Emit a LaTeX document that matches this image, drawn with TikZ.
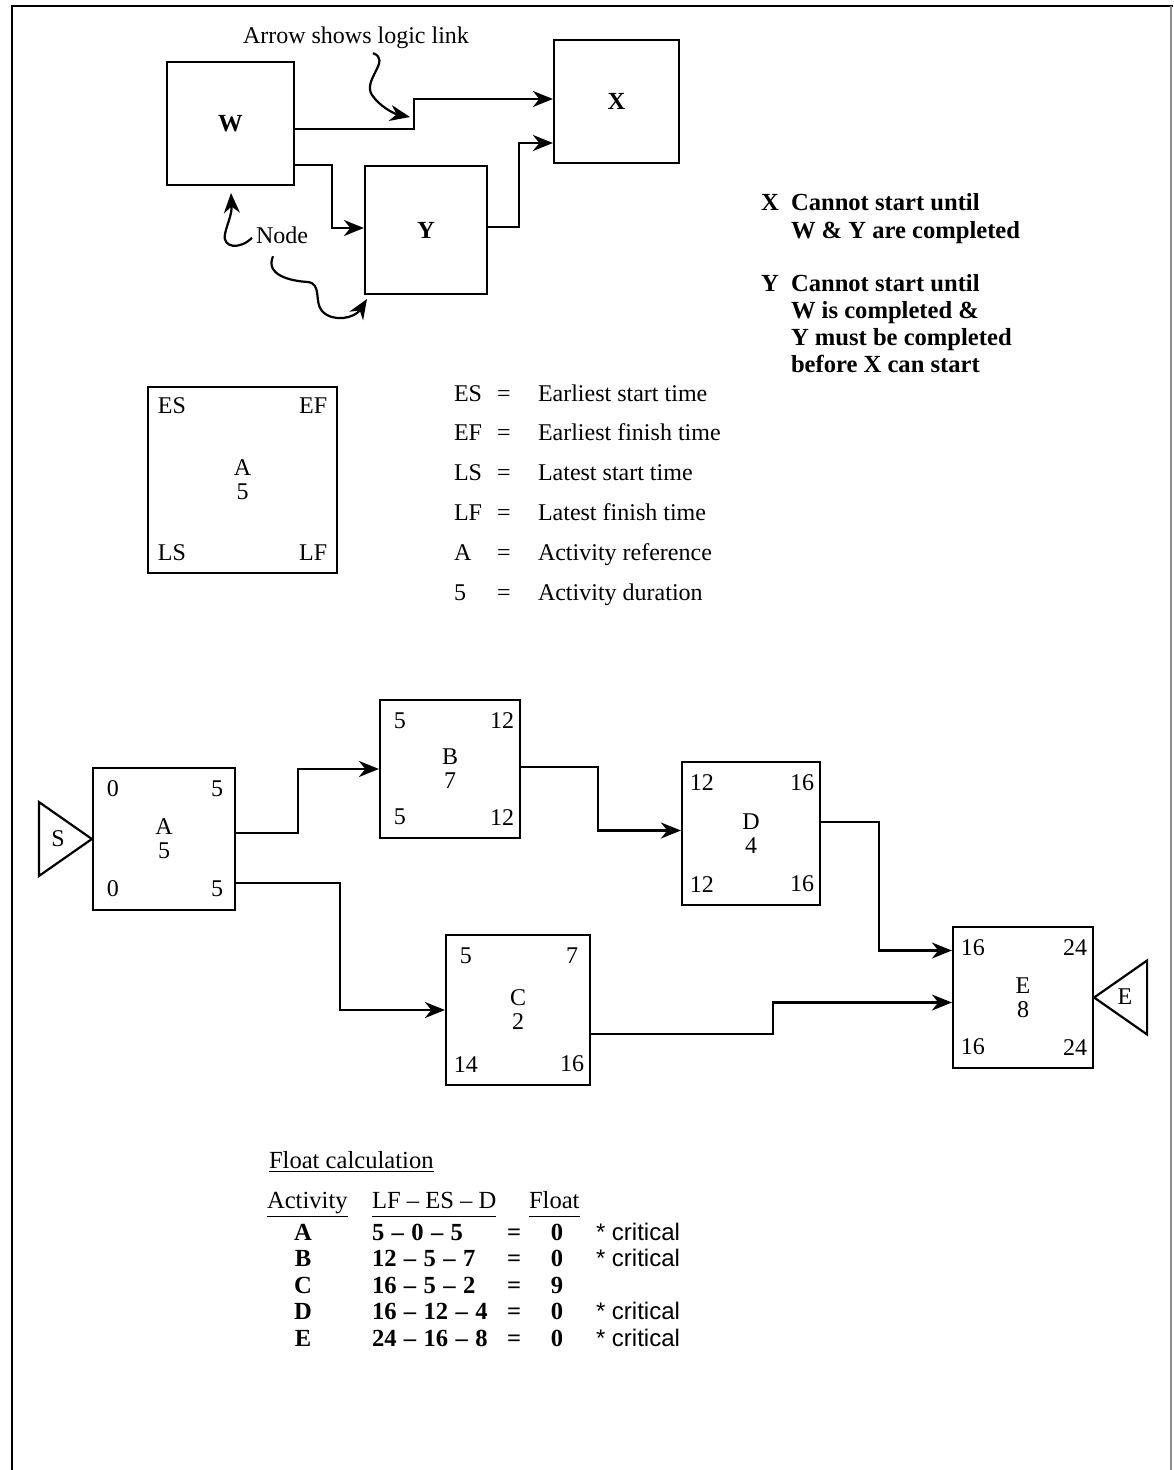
\documentclass[tikz,border=0pt]{standalone}
\usepackage{fontspec}
\setmainfont{Liberation Serif}
\setsansfont{Liberation Sans}
\usetikzlibrary{arrows.meta}
\newcommand{\ens}{\hspace{0.3em}--\hspace{0.3em}}
\newcommand{\actnode}[8]{%
  \node[bx,#3] (#1) at #2 {#4};
  \node[lab] (#1-tl) at ([shift={(21,22)}]#1.north west) {#5};
  \node[lab] (#1-tr) at ([shift={(-19,22)}]#1.north east) {#6};
  \node[lab] (#1-bl) at ([shift={(21,-22)}]#1.south west) {#7};
  \node[lab] (#1-br) at ([shift={(-19,-22)}]#1.south east) {#8};
}
\newcommand{\floatrow}[6]{%
  \node[txt,anchor=base,rowf] (r#1-l) at (303,#2) {#3};
  \node[txt,rowf] (r#1-e) at (371,#2) {#4};
  \node[txt,anchor=base,rowf] (r#1-q) at (514,#2) {=};
  \node[txt,anchor=base,rowf] (r#1-v) at (557,#2) {#5};
  \node[txt,font=\sffamily\fontsize{12}{13}\selectfont] (r#1-c) at (595,#2) {#6};
}
\begin{document}
\begin{tikzpicture}[x=0.5pt,y=-0.5pt,
  line width=1pt,
  font=\fontsize{12}{12}\selectfont,
  bx/.style={draw, line width=1.1pt, rectangle, inner sep=0pt, align=center},
  arr/.style={line width=1.1pt, -{Stealth[length=10pt,width=8pt,inset=3.2pt]}},
  lab/.style={inner sep=0pt},
  txt/.style={inner sep=0pt, anchor=base west},
  bld/.style={font=\fontsize{12.3}{13}\selectfont\bfseries},
  tbl/.style={font=\fontsize{12.3}{13}\selectfont},
  rowf/.style={font=\fontsize{12.3}{13}\selectfont\bfseries},
]
\useasboundingbox (0,0) rectangle (1173,1470);
% frame
\draw[line width=1pt] (12,1470) -- (12,6) -- (1173,6);
\draw[line width=0.6pt, black!45] (1171,6) -- (1171,1470);

% ---------- top logic example ----------
\node[bx, bld, minimum width=63.5pt, minimum height=61.5pt] (W) at (230.5,123.5) {W};
\node[bx, bld, minimum width=62.5pt, minimum height=61.5pt] (X) at (616.5,101.5) {X};
\node[bx, bld, minimum width=61pt, minimum height=64pt] (Y) at (426,230) {Y};

\draw[arr] ([shift={(0,5.5)}]W.east) -- ++(119,0) |- ([shift={(0,-2.5)}]X.west);
\draw[arr] ([shift={(0,41.5)}]W.east) -- ++(37,0) |- ([shift={(0,-2)}]Y.west);
\draw[arr] ([shift={(0,-3)}]Y.east) -- ++(31,0) |- ([shift={(0,41.5)}]X.west);

\node[txt] (arrowlbl) at (242,44) {Arrow shows logic link};
\draw[arr] ([shift={(17,3)}]arrowlbl.south) .. controls (392,60) and (362,80) .. (372,95)
   .. controls (380,107) and (395,114) .. (410,117);

\node[txt] (nodelbl) at (255,244) {Node};
\draw[arr] ([shift={(-3,2)}]nodelbl.west) .. controls (240,250) and (222,248) .. (225,234)
   .. controls (227,224) and (232,215) .. (231,193);
\draw[arr] ([shift={(18,11)}]nodelbl.south west) .. controls (265,275) and (290,281) .. (308,282)
   .. controls (322,284) and (314,302) .. (322,311)
   .. controls (333,323) and (355,318) .. (367,299);

\node[txt,bld] (rt1) at (760,211) {X};
\node[txt,bld] (rt2) at (790,211) {Cannot start until};
\node[txt,bld] (rt3) at (790,239) {W \& Y are completed};
\node[txt,bld] (rt4) at (760,292) {Y};
\node[txt,bld] (rt5) at (790,292) {Cannot start until};
\node[txt,bld] (rt6) at (790,319) {W is completed \&};
\node[txt,bld] (rt7) at (790,346) {Y must be completed};
\node[txt,bld] (rt8) at (790,373) {before X can start};

% ---------- legend ----------
\node[bx, minimum width=94.5pt, minimum height=93pt] (LG) at (242.5,480) {A\\5};
\node[lab] (LG-tl) at ([shift={(25,20)}]LG.north west) {ES};
\node[lab] (LG-tr) at ([shift={(-25,20)}]LG.north east) {EF};
\node[lab] (LG-bl) at ([shift={(25,-21)}]LG.south west) {LS};
\node[lab] (LG-br) at ([shift={(-25,-21)}]LG.south east) {LF};

\foreach \k/\d [count=\i from 0] in {ES/Earliest start time, EF/Earliest finish time,
    LS/Latest start time, LF/Latest finish time, A/Activity reference, 5/Activity duration}{
  \node[txt] (lk\i) at (453,401+39.8*\i) {\k};
  \node[txt,anchor=base] (leq\i) at (504,401+39.8*\i) {=};
  \node[txt] (ld\i) at (537,401+39.8*\i) {\d};
}

% ---------- network ----------
\actnode{A}{(164,839)}{minimum width=71pt, minimum height=71pt}{A\\5}{0}{5}{0}{5}
\actnode{B}{(450,769)}{minimum width=70pt, minimum height=69pt}{B\\7}{5}{12}{5}{12}
\actnode{D}{(751,833.5)}{minimum width=69pt, minimum height=71.5pt}{D\\4}{12}{16}{12}{16}
\actnode{C}{(518,1010)}{minimum width=72pt, minimum height=75pt}{C\\2}{5}{7}{14}{16}
\actnode{E}{(1023,997.5)}{minimum width=70pt, minimum height=70.5pt}{E\\8}{16}{24}{16}{24}

\draw[line width=1.1pt] (A.west) -- ++(-53,-37) -- ++(0,74) -- cycle;
\node[lab] (Slbl) at (58,839) {S};
\draw[line width=1.1pt] (E.east) -- ++(53,-37) -- ++(0,74) -- cycle;
\node[lab] (Elbl) at (1125,997) {E};

\draw[arr] ([shift={(0,-6)}]A.east) -- ++(62,0) |- (B.west);
\draw[arr] ([shift={(0,44)}]A.east) -- ++(104,0) |- (C.west);
\draw[arr] ([shift={(0,-2)}]B.east) -- ++(77,0) |- ([shift={(0,-3)}]D.west);
\draw[arr] ([shift={(0,-11.5)}]D.east) -- ++(58,0) |- ([shift={(0,-47)}]E.west);
\draw[arr] ([shift={(0,24)}]C.east) -- ++(182,0) |- ([shift={(0,5)}]E.west);

% ---------- float table ----------
\node[txt,tbl] (ftitle) at (268,1168) {\underline{Float calculation}};
\node[txt,tbl] (h1) at (266,1208) {\underline{Activity}};
\node[txt,tbl] (h2) at (371,1208) {\underline{LF -- ES -- D\vphantom{y}}};
\node[txt,tbl] (h3) at (528,1208) {\underline{Float\vphantom{y}}};

\floatrow{1}{1240}{A}{5\ens0\ens5}{0}{* critical}
\floatrow{2}{1266.5}{B}{12\ens5\ens7}{0}{* critical}
\floatrow{3}{1293}{C}{16\ens5\ens2}{9}{}
\floatrow{4}{1319.5}{D}{16\ens12\ens4}{0}{* critical}
\floatrow{5}{1346}{E}{24\ens16\ens8}{0}{* critical}
\end{tikzpicture}
\end{document}
